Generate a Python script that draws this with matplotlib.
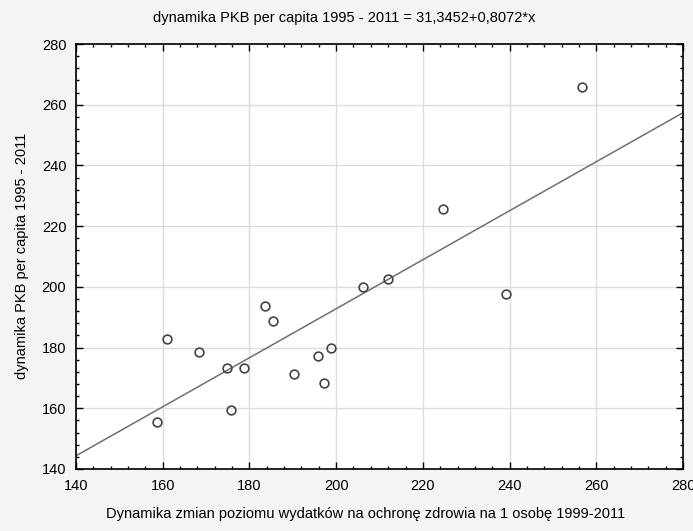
import matplotlib.pyplot as plt
from matplotlib.ticker import MultipleLocator

# health expenditure growth 1999-2011 vs GDP per capita growth 1995-2011
wydatki = [256.8, 161.1, 168.3, 174.8, 178.7, 175.8, 158.6, 183.7, 185.5,
           190.3, 195.8, 197.2, 198.8, 224.7, 206.1, 212.0, 239.2]
pkb = [265.7, 182.7, 178.7, 173.4, 173.4, 159.5, 155.4, 193.8, 188.8,
       171.4, 177.3, 168.3, 179.8, 225.5, 199.8, 202.7, 197.7]

intercept = 31.3452
slope = 0.8072
x_range = [140, 280]

plt.rcParams["font.family"] = ["Liberation Sans", "DejaVu Sans"]
plt.rcParams["font.size"] = 10.5

fig = plt.figure(figsize=(6.93, 5.31), dpi=100, facecolor="#f4f4f4")
ax = fig.add_axes([76 / 693, 1 - 469 / 531, 607 / 693, 425 / 531])
ax.set_facecolor("white")

# regression line from the fitted equation
line_y = [intercept + slope * x for x in x_range]
ax.plot(x_range, line_y, color="#707070", linewidth=1.1, zorder=2)

ax.plot(wydatki, pkb, linestyle="none", marker="o", markersize=6.3,
        markerfacecolor="none", markeredgecolor="#444444",
        markeredgewidth=1.2, zorder=3)

ax.set_xlim(140, 280)
ax.set_ylim(140, 280)
ax.xaxis.set_major_locator(MultipleLocator(20))
ax.yaxis.set_major_locator(MultipleLocator(20))
ax.xaxis.set_minor_locator(MultipleLocator(4))
ax.yaxis.set_minor_locator(MultipleLocator(4))
ax.grid(True, which="major", color="#dcdcdc", linewidth=1.0, zorder=0)
ax.set_axisbelow(True)

ax.tick_params(which="both", direction="in", top=True, right=True,
               color="black", width=1.0)
ax.tick_params(which="major", length=5, pad=7, labelsize=10.5)
ax.tick_params(which="minor", length=2.5)
for s in ax.spines.values():
    s.set_linewidth(1.2)
    s.set_color("black")

fig.text(344 / 693, 1 - 18 / 531,
         "dynamika PKB per capita 1995 - 2011 = 31,3452+0,8072*x",
         ha="center", va="center", fontsize=10.5)
fig.text(366 / 693, 1 - 514 / 531,
         "Dynamika zmian poziomu wydatków na ochronę zdrowia na 1 osobę 1999-2011",
         ha="center", va="center", fontsize=10.5)
fig.text(22 / 693, 1 - 256 / 531, "dynamika PKB per capita 1995 - 2011",
         ha="center", va="center", rotation=90, fontsize=10.5)

fig.savefig("out.png", dpi=100, facecolor=fig.get_facecolor())
